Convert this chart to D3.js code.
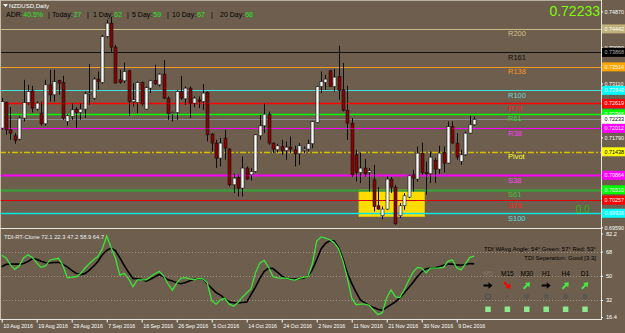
<!DOCTYPE html>
<html>
<head>
<meta charset="utf-8">
<script src="https://cdn.jsdelivr.net/npm/d3@7"></script>
<style>
  body { margin: 0; background: #6d5e4d; }
  svg { display: block; font-family: "Liberation Sans", Arial, sans-serif; }
</style>
</head>
<body>
<div id="chart"></div>
<script>
// NZDUSD daily bars, 10 Aug 2016 -> 14 Dec 2016 (broker with Sunday bars)
var openP = [0.72017,0.72643,0.71976,0.71829,0.71748,0.72262,0.72643,0.72929,0.72482,0.72384,
  0.72122,0.73075,0.72831,0.73181,0.73132,0.72179,0.72301,0.72482,0.72398,0.72482,
  0.72848,0.72750,0.73215,0.73132,0.74256,0.74583,0.73997,0.73198,0.73173,0.73418,
  0.72660,0.72643,0.73132,0.72482,0.72995,0.73181,0.73075,0.73337,0.72750,0.72367,
  0.72398,0.72912,0.72733,0.72995,0.72628,0.72709,0.72667,0.72887,0.71871,0.71651,
  0.71284,0.71773,0.71504,0.70631,0.70810,0.70551,0.71040,0.70876,0.70957,0.71829,
  0.72073,0.72359,0.71651,0.71487,0.71568,0.71470,0.71553,0.71487,0.71389,0.71470,
  0.71504,0.71634,0.72154,0.73034,0.73132,0.73418,0.73034,0.73278,0.72953,0.72447,
  0.72139,0.71365,0.70932,0.71040,0.70932,0.70754,0.70118,0.69874,0.70038,0.70771,
  0.70575,0.69874,0.70118,0.70331,0.70876,0.70771,0.71406,0.70932,0.70900,0.71225,
  0.71015,0.71421,0.71162,0.72056,0.71651,0.71201,0.71365,0.71895,0.72098];
var highP = [0.72758,0.72667,0.72530,0.71895,0.72301,0.73198,0.73075,0.73051,0.72667,0.72667,
  0.73198,0.73442,0.73442,0.73198,0.73295,0.72367,0.72628,0.72530,0.72628,0.72912,
  0.73581,0.73264,0.73401,0.74297,0.74664,0.74737,0.74053,0.73442,0.73620,0.73442,
  0.73117,0.73156,0.73156,0.73034,0.73198,0.73564,0.73361,0.73686,0.72790,0.72423,
  0.72953,0.73295,0.73034,0.73034,0.72790,0.72790,0.73093,0.72912,0.71895,0.71731,
  0.71780,0.71976,0.71528,0.70900,0.70876,0.71323,0.71079,0.71040,0.71871,0.72342,
  0.72628,0.72423,0.71665,0.71634,0.71731,0.71690,0.71812,0.71585,0.71651,0.71568,
  0.71731,0.72196,0.73051,0.73401,0.73320,0.73442,0.73459,0.74029,0.73606,0.73051,
  0.72262,0.71487,0.71421,0.71260,0.71040,0.71120,0.70575,0.70101,0.70834,0.70820,
  0.70631,0.70184,0.70429,0.70876,0.70998,0.71568,0.71665,0.71201,0.71445,0.71284,
  0.71585,0.71568,0.72179,0.72179,0.71895,0.71487,0.71934,0.72318,0.72301];
var lowP = [0.71976,0.71853,0.71731,0.71634,0.71714,0.72179,0.72587,0.72398,0.72447,0.72073,
  0.72073,0.72667,0.72667,0.72831,0.72220,0.72073,0.72220,0.72025,0.72220,0.72262,
  0.72587,0.72709,0.72953,0.73100,0.74217,0.73882,0.73117,0.73100,0.73117,0.72318,
  0.72545,0.72384,0.72562,0.72464,0.72873,0.73075,0.73034,0.72726,0.72220,0.72179,
  0.72220,0.72709,0.72587,0.72262,0.72530,0.72506,0.72464,0.71690,0.71445,0.71040,
  0.71079,0.71242,0.70590,0.70429,0.70346,0.70346,0.70754,0.70737,0.70932,0.71731,
  0.71895,0.71609,0.71406,0.71421,0.71365,0.71242,0.71406,0.71079,0.71120,0.71406,
  0.71445,0.71528,0.72139,0.72873,0.72953,0.73034,0.72912,0.72709,0.72423,0.71731,
  0.70827,0.70712,0.70673,0.70834,0.70468,0.69979,0.70020,0.69793,0.70020,0.70429,
  0.69654,0.69818,0.70020,0.70306,0.70468,0.70712,0.70876,0.70387,0.70673,0.70673,
  0.70900,0.70932,0.71145,0.71634,0.71242,0.71120,0.71340,0.71878,0.72073];
var closeP = [0.72667,0.71976,0.71895,0.71714,0.72262,0.72643,0.72912,0.72506,0.72628,0.72122,
  0.73075,0.72831,0.73156,0.73117,0.72262,0.72318,0.72464,0.72398,0.72482,0.72856,
  0.72873,0.73215,0.73156,0.74256,0.74583,0.73997,0.73117,0.73132,0.73401,0.72667,
  0.72709,0.73132,0.72611,0.73009,0.73173,0.73100,0.73337,0.72750,0.72367,0.72398,
  0.72912,0.72750,0.72995,0.72628,0.72750,0.72667,0.72873,0.71853,0.71651,0.71284,
  0.71651,0.71528,0.70631,0.70795,0.70551,0.71040,0.70771,0.70957,0.71853,0.72073,
  0.72359,0.71651,0.71504,0.71585,0.71470,0.71553,0.71504,0.71389,0.71585,0.71504,
  0.71634,0.72179,0.73034,0.73156,0.73215,0.73034,0.73264,0.72936,0.72447,0.72139,
  0.70876,0.70932,0.71040,0.70900,0.70981,0.70101,0.70038,0.70038,0.70771,0.70575,
  0.69678,0.70118,0.70363,0.70851,0.70795,0.71406,0.70932,0.70900,0.71308,0.71015,
  0.71406,0.71162,0.72056,0.71651,0.71308,0.71365,0.71895,0.72098,0.72233];

// date labels on the time axis and the bar each one sits on
var dateTicks = ["10 Aug 2016","19 Aug 2016","29 Aug 2016","7 Sep 2016","16 Sep 2016","26 Sep 2016",
  "5 Oct 2016","14 Oct 2016","24 Oct 2016","2 Nov 2016","11 Nov 2016","21 Nov 2016","30 Nov 2016","9 Dec 2016"];
var dateTickBars = [0,8,16,24,32,40,48,56,64,72,80,88,96,104];

// price scale labels
var priceTicks = [0.74870,0.74430,0.73990,0.73550,0.73110,0.72670,0.72230,0.71790,0.71350,0.70910,0.70470,0.70030,0.69590];

// pivot / fibo levels
var levelNames = ["R200","R161","R138","R100","R78","R61","R38","Pivot","S38","S61","S78","S100"];
var levelPrices = [0.74442,0.73868,0.73514,0.72940,0.72619,0.72366,0.72012,0.71438,0.70864,0.70510,0.70257,0.69936];

// yellow zone (bars from/to, prices top/bottom)
var zoneBars = [82, 97];
var zonePrices = [0.70510, 0.69857];

// ADR header
var adrNames = ["ADR:","Today:","1 Day:","5 Day:","10 Day:","20 Day:"];
var adrValues = ["40.5%","27","62","59","67","68"];

// TDI sub window
var tdiGreen = [65.3,63.3,58.1,54.8,57.4,63.3,65.6,63.6,59.6,56.3,
  57.4,61.6,62.4,63.0,57.4,48.5,49.0,49.3,51.5,55.6,
  58.9,61.9,64.4,70.0,79.6,71.1,63.0,50.4,51.9,47.8,
  41.9,47.0,47.0,47.0,49.3,51.5,53.3,50.0,44.1,39.3,
  44.6,48.3,48.7,47.8,47.0,48.0,47.8,44.8,31.5,28.9,
  32.2,33.3,28.9,27.4,30.1,34.1,37.2,40.4,52.2,59.6,
  61.5,56.4,49.4,48.5,48.3,48.3,47.4,46.8,48.1,48.9,
  49.6,58.9,75.9,78.9,78.1,76.7,74.6,70.0,61.1,48.5,
  33.5,28.5,29.0,29.0,28.1,24.4,21.1,22.6,33.5,39.6,
  34.4,33.9,39.6,46.3,52.6,56.3,55.7,52.2,55.7,55.7,
  55.9,56.3,60.7,61.9,55.9,54.4,58.9,63.7,64.7];
var tdiBlack = [56.7,58.5,58.7,58.7,58.7,59.2,60.7,62.6,62.2,60.8,
  59.8,59.6,59.9,60.1,58.5,56.7,54.1,51.9,50.9,51.6,
  54.0,57.1,60.7,65.7,68.9,70.6,68.7,63.3,57.7,52.6,
  48.1,47.8,47.3,46.0,47.5,49.3,51.0,49.3,47.0,46.1,
  44.8,44.1,45.0,46.3,47.2,48.0,47.6,44.1,40.7,37.6,
  35.7,33.0,30.6,30.0,29.9,30.2,30.5,36.1,41.6,48.1,
  53.3,55.6,55.4,52.7,49.9,48.2,47.6,47.7,48.0,48.3,
  49.9,54.4,61.9,70.0,74.1,76.1,75.9,71.1,62.6,52.2,
  44.4,37.9,32.0,29.9,28.0,26.4,25.2,24.3,26.5,28.6,
  30.7,33.7,37.2,41.1,45.1,49.3,53.0,55.3,55.7,55.9,
  56.7,57.9,58.7,58.7,58.1,57.9,58.4,59.2,58.9];
var tdiTitleValues = [72.1, 22.3, 47.2, 58.9, 64.7];
var tdiTicks = [82.2, 68, 50, 32, 16.4];
var tdiLevels = [68, 50, 32];
var tfNames = ["M5","M15","M30","H1","H4","D1"];
var tfTrend = ["flat","down","up","flat","up","up"];
var tfDots = ["ring","small","dot","dot","dot","dot"];

function makeChart() {

    var svgWidth = 625;
    var svgHeight = 333;
    var plotRight = 601;
    var mainBottom = 228;
    var subTop = 229;
    var subBottom = 319;
    var bg = "#6d5e4d";
    var fmt5 = d3.format(".5f");
    var axisFont = "Liberation Sans, Arial, sans-serif";

    var levelStyle = {
        R200:  { line: "#c8bc84", width: 1,   label: "#cfc38c", box: "#c0b27a", ink: "#fff" },
        R161:  { line: "#111111", width: 1,   label: "#111111", box: "#000000", ink: "#b0b0b0" },
        R138:  { line: "#f59a23", width: 1,   label: "#f59a23", box: "#ffa500", ink: "#fff" },
        R100:  { line: "#3ee0e0", width: 1,   label: "#6fd8d8", box: "#00ffff", ink: "#fff" },
        R78:   { line: "#ff0000", width: 1.3, label: "#ff1a1a", box: "#ff0000", ink: "#fff" },
        R61:   { line: "#00ff00", width: 1.3, label: "#22dd22", box: "#00ff00", ink: "#fff" },
        R38:   { line: "#ff00ff", width: 1,   label: "#ff33ff", box: "#ff00ff", ink: "#fff" },
        Pivot: { line: "#d2c000", width: 1.5, label: "#ffff33", box: "#ffff00", ink: "#000", dash: "6,2,2,2" },
        S38:   { line: "#ff00ff", width: 2,   label: "#ff44ff", box: "#ff00ff", ink: "#fff" },
        S61:   { line: "#3b9b3b", width: 2.5, label: "#33cc33", box: "#00ff00", ink: "#fff" },
        S78:   { line: "#e00000", width: 1,   label: "#ff2020", box: "#ff0000", ink: "#fff" },
        S100:  { line: "#00e5e5", width: 1.5, label: "#55e0e0", box: "#00ffff", ink: "#fff" }
    };

    var svg = d3.select("#chart")
        .append("svg")
        .attr("width", svgWidth)
        .attr("height", svgHeight);

    svg.append("rect")
        .attr("width", svgWidth)
        .attr("height", svgHeight)
        .attr("fill", bg);

    var defs = svg.append("defs");
    defs.append("clipPath").attr("id", "clipMain")
        .append("rect").attr("x", 0).attr("y", 0).attr("width", plotRight).attr("height", mainBottom);
    defs.append("clipPath").attr("id", "clipSub")
        .append("rect").attr("x", 0).attr("y", subTop).attr("width", plotRight).attr("height", subBottom - subTop);

    // scales
    var x = d3.scaleLinear().domain([0, closeP.length - 1]).range([1.7, 474.2]);
    var y = d3.scaleLinear().domain([0.69590, 0.74870]).range([227.4, 11.4]);
    var yTdi = d3.scaleLinear().domain([16.4, 82.2]).range([321, 232.5]);

    var main = svg.append("g").attr("clip-path", "url(#clipMain)");

    // yellow zone
    main.append("rect")
        .attr("x", x(zoneBars[0]) - 1.5)
        .attr("width", x(zoneBars[1]) - x(zoneBars[0]))
        .attr("y", y(zonePrices[0]))
        .attr("height", y(zonePrices[1]) - y(zonePrices[0]))
        .attr("fill", "#ffdc00")
        .attr("stroke", "#e6c200")
        .attr("stroke-width", 0.8);

    // level lines
    main.selectAll(".level")
        .data(levelNames)
        .enter()
        .append("line")
        .attr("x1", 0)
        .attr("x2", plotRight)
        .attr("y1", (d, i) => Math.round(y(levelPrices[i])) + 0.5)
        .attr("y2", (d, i) => Math.round(y(levelPrices[i])) + 0.5)
        .attr("stroke", d => levelStyle[d].line)
        .attr("stroke-width", d => levelStyle[d].width)
        .attr("stroke-dasharray", d => levelStyle[d].dash || null);

    // bid line
    var lastPrice = closeP[closeP.length - 1];
    main.append("line")
        .attr("x1", 0).attr("x2", plotRight)
        .attr("y1", Math.round(y(lastPrice)) + 0.5)
        .attr("y2", Math.round(y(lastPrice)) + 0.5)
        .attr("stroke", "#8c8c8c")
        .attr("stroke-width", 1);

    // candles
    var bars = d3.range(closeP.length).map(function(i) {
        return { i: i, o: openP[i], h: highP[i], l: lowP[i], c: closeP[i] };
    });

    var candles = main.selectAll(".candle")
        .data(bars)
        .enter()
        .append("g");

    candles.append("line")
        .attr("x1", d => Math.round(x(d.i)) + 0.5)
        .attr("x2", d => Math.round(x(d.i)) + 0.5)
        .attr("y1", d => y(d.h))
        .attr("y2", d => y(d.l))
        .attr("stroke", "#0d0d0d")
        .attr("stroke-width", 1);

    candles.append("rect")
        .attr("x", d => Math.round(x(d.i)) - 1)
        .attr("width", 3)
        .attr("y", d => y(Math.max(d.o, d.c)))
        .attr("height", d => Math.max(1, Math.abs(y(d.o) - y(d.c))))
        .attr("fill", d => d.c >= d.o ? "#ffffff" : "#8b0000")
        .attr("stroke", "#111")
        .attr("stroke-width", 0.6);

    // level names
    svg.selectAll(".levelName")
        .data(levelNames)
        .enter()
        .append("text")
        .attr("x", 508)
        .attr("y", (d, i) => y(levelPrices[i]) + 7.5)
        .attr("font-size", 7.5)
        .attr("fill", d => levelStyle[d].label)
        .text(d => d);

    svg.append("text")
        .attr("x", 576)
        .attr("y", 213)
        .attr("font-size", 10)
        .attr("fill", "#1fbf1f")
        .text("0.0");

    // header
    svg.append("path")
        .attr("d", "M3,4 L8,4 L5.5,7 Z")
        .attr("fill", "#fff");
    svg.append("text")
        .attr("x", 9).attr("y", 8)
        .attr("font-size", 6)
        .attr("fill", "#fff")
        .text("NZDUSD,Daily");

    var adrX = [6, 52, 93, 132, 172, 220];
    var sepX = [48, 87, 127, 167, 211];
    adrNames.forEach(function(name, i) {
        var t = svg.append("text")
            .attr("x", adrX[i]).attr("y", 16.5)
            .attr("font-size", 7);
        t.append("tspan").attr("fill", "#000").text(name);
        t.append("tspan").attr("fill", "#22e822").attr("dx", i == 0 ? 0.5 : 1).text(adrValues[i]);
    });
    sepX.forEach(function(sx) {
        svg.append("text").attr("x", sx).attr("y", 16.5).attr("font-size", 7).attr("fill", "#000").text("|");
    });

    svg.append("text")
        .attr("x", 600).attr("y", 16)
        .attr("text-anchor", "end")
        .attr("font-size", 14)
        .attr("fill", "#7cfc00")
        .text(fmt5(lastPrice));

    // TDI sub window
    var sub = svg.append("g").attr("clip-path", "url(#clipSub)");

    sub.selectAll(".tdiLevel")
        .data(tdiLevels)
        .enter()
        .append("line")
        .attr("x1", 0).attr("x2", plotRight)
        .attr("y1", d => Math.round(yTdi(d)) + 0.5)
        .attr("y2", d => Math.round(yTdi(d)) + 0.5)
        .attr("stroke", "#a09482")
        .attr("stroke-dasharray", "1,2");

    var tdiLine = d3.line()
        .x((d, i) => x(i))
        .y(d => yTdi(d));

    sub.append("path")
        .datum(tdiBlack)
        .attr("d", tdiLine)
        .attr("fill", "none")
        .attr("stroke", "#000")
        .attr("stroke-width", 1.6);

    sub.append("path")
        .datum(tdiGreen)
        .attr("d", tdiLine)
        .attr("fill", "none")
        .attr("stroke", "#39e639")
        .attr("stroke-width", 1.3);

    svg.append("text")
        .attr("x", 4).attr("y", 238.5)
        .attr("font-size", 5.8)
        .attr("fill", "#eeeeee")
        .text("TDI-RT-Clone " + tdiTitleValues.join(" "));

    svg.append("text")
        .attr("x", 596).attr("y", 251)
        .attr("text-anchor", "end")
        .attr("font-size", 6)
        .attr("fill", "#000")
        .text("TDI WAvg Angle: 54\u00b0   Green: 57\u00b0   Red: 53\u00b0");
    svg.append("text")
        .attr("x", 596).attr("y", 259.5)
        .attr("text-anchor", "end")
        .attr("font-size", 6)
        .attr("fill", "#000")
        .text("TDI Seperation: Good [3.3]");

    var tfX = d3.scalePoint().domain(tfNames).range([488, 585]);

    svg.selectAll(".tfName")
        .data(tfNames)
        .enter()
        .append("text")
        .attr("x", d => tfX(d))
        .attr("y", 275.5)
        .attr("text-anchor", "middle")
        .attr("font-size", 6.5)
        .attr("fill", (d, i) => i == 0 ? "#85786a" : "#000")
        .text(d => d);

    var arrowAngle = { flat: 0, down: 45, up: -45 };
    var arrowColor = { flat: "#000", down: "#ff0000", up: "#44ee44" };
    svg.selectAll(".tfArrow")
        .data(tfNames)
        .enter()
        .append("path")
        .attr("d", "M-4.5,-1 L0.5,-1 L0.5,-3.2 L4.5,0 L0.5,3.2 L0.5,1 L-4.5,1 Z")
        .attr("transform", (d, i) => "translate(" + tfX(d) + ",285.5) rotate(" + arrowAngle[tfTrend[i]] + ")")
        .attr("fill", (d, i) => arrowColor[tfTrend[i]]);

    svg.selectAll(".tfDot")
        .data(tfNames)
        .enter()
        .append("circle")
        .attr("cx", d => tfX(d))
        .attr("cy", 296.5)
        .attr("r", (d, i) => tfDots[i] == "ring" ? 2.6 : (tfDots[i] == "small" ? 1 : 2.5))
        .attr("fill", (d, i) => tfDots[i] == "ring" ? "none" : "#5a5652")
        .attr("stroke", (d, i) => tfDots[i] == "ring" ? "#555" : "none")
        .attr("stroke-width", 1.4);

    svg.selectAll(".tfBox")
        .data(tfNames)
        .enter()
        .append("rect")
        .attr("x", d => tfX(d) - 2.75)
        .attr("y", 306.5)
        .attr("width", 5.5)
        .attr("height", 5.5)
        .attr("fill", "#8ee88e");

    // frames
    var frame = "#e8e4de";
    svg.append("line").attr("x1", 0).attr("x2", plotRight).attr("y1", 0.5).attr("y2", 0.5).attr("stroke", "#b8aea0");
    svg.append("line").attr("x1", 0.5).attr("x2", 0.5).attr("y1", 0).attr("y2", subBottom).attr("stroke", "#c8bca8");
    svg.append("line").attr("x1", plotRight + 0.5).attr("x2", plotRight + 0.5).attr("y1", 0).attr("y2", subBottom + 1).attr("stroke", frame);
    svg.append("line").attr("x1", 0).attr("x2", plotRight).attr("y1", mainBottom + 0.5).attr("y2", mainBottom + 0.5).attr("stroke", frame);
    svg.append("line").attr("x1", 0).attr("x2", plotRight).attr("y1", subBottom + 0.5).attr("y2", subBottom + 0.5).attr("stroke", frame);

    // price scale: MT4 hides grid prices that sit under a level box
    var boxPrices = levelPrices.concat([lastPrice]);
    var shownTicks = priceTicks.filter(function(p) {
        return !boxPrices.some(b => Math.abs(y(b) - y(p)) < 4.5);
    });
    var priceAxis = d3.axisRight(y)
        .tickValues(shownTicks)
        .tickFormat(fmt5)
        .tickSize(2)
        .tickSizeOuter(0)
        .tickPadding(1.5);
    var pa = svg.append("g")
        .attr("transform", `translate(${plotRight}, 0)`)
        .call(priceAxis)
        .attr("font-size", 5.4)
        .attr("font-family", axisFont);
    pa.select(".domain").remove();
    pa.selectAll("line").attr("stroke", "#fff");
    pa.selectAll("text").attr("fill", "#fff");

    // price boxes on the scale
    var boxes = svg.selectAll(".levelBox")
        .data(levelNames.map((d, i) => ({ name: d, p: levelPrices[i], box: levelStyle[d].box, ink: levelStyle[d].ink }))
            .concat([{ name: "bid", p: lastPrice, box: "#ffffff", ink: "#000" }]))
        .enter()
        .append("g")
        .attr("transform", d => `translate(${plotRight + 1}, ${y(d.p)})`);
    boxes.append("rect")
        .attr("x", 0).attr("y", -4.5)
        .attr("width", 24).attr("height", 9)
        .attr("fill", d => d.box);
    boxes.append("text")
        .attr("x", 2.5).attr("y", 2)
        .attr("font-size", 5.4)
        .attr("font-family", axisFont)
        .attr("fill", d => d.ink)
        .text(d => fmt5(d.p));

    // TDI scale
    var tdiAxis = d3.axisRight(yTdi)
        .tickValues(tdiTicks)
        .tickFormat(d => String(d))
        .tickSize(2)
        .tickSizeOuter(0)
        .tickPadding(3);
    var ta = svg.append("g")
        .attr("transform", `translate(${plotRight}, 0)`)
        .call(tdiAxis)
        .attr("font-size", 5.6)
        .attr("font-family", axisFont);
    ta.select(".domain").remove();
    ta.selectAll("line").attr("stroke", "#fff");
    ta.selectAll("text").attr("fill", "#fff");
    ta.selectAll(".tick").filter(d => d == 16.4).attr("transform", `translate(0, ${subBottom - 1.5})`);
    ta.selectAll(".tick").filter(d => d == 82.2).attr("transform", `translate(0, ${subTop + 5})`);

    // time axis
    var dateAxis = d3.axisBottom(x)
        .tickValues(dateTickBars)
        .tickFormat((d, i) => dateTicks[i])
        .tickSize(3)
        .tickSizeOuter(0);
    var da = svg.append("g")
        .attr("transform", `translate(0, ${subBottom + 0.5})`)
        .call(dateAxis)
        .attr("font-size", 5.3)
        .attr("font-family", axisFont);
    da.select(".domain").remove();
    da.selectAll("line").attr("stroke", "#fff");
    da.selectAll("text")
        .attr("fill", "#fff")
        .attr("text-anchor", "start")
        .attr("x", 1)
        .attr("y", 5);
}
makeChart();
</script>
</body>
</html>
